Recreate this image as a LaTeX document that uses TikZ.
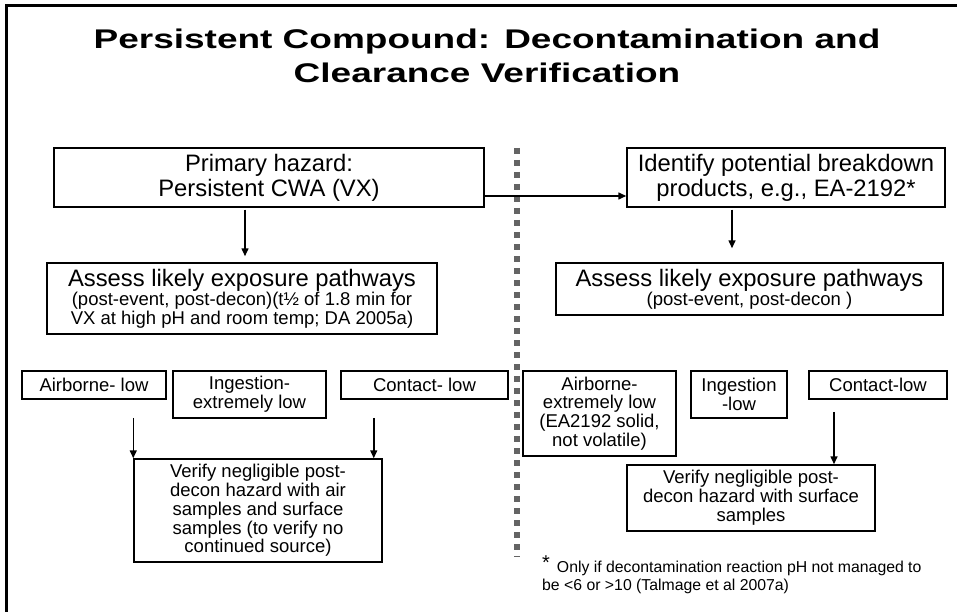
\documentclass[tikz,border=0pt]{standalone}
\usepackage{fontspec}
\setmainfont{Liberation Sans}
\newfontfamily\titlefont{Liberation Sans}[FakeStretch=1.37]
\usetikzlibrary{arrows.meta,calc}
\definecolor{sepgray}{RGB}{100,100,100}
\newcommand{\fsBig}{\fontsize{23.8}{25}\selectfont}
\newcommand{\fsMid}{\fontsize{18.5}{18.8}\selectfont}
\newcommand{\fsFoot}{\fontsize{15.8}{17.5}\selectfont}
\begin{document}
\begin{tikzpicture}[x=1pt,y=-1pt,
  box/.style={draw, line width=1.5pt, inner sep=0pt, align=center},
  arr/.style={line width=1.5pt, -{Triangle[length=8pt,width=7pt]}},
  sep/.style={sepgray, line width=6pt, dash pattern=on 6pt off 6pt},
  frame/.style={line width=3pt}
]
\useasboundingbox (0,0) rectangle (957,612);
\fill[white] (0,0) rectangle (957,612);

% frame
\coordinate (frTR) at (957,6);
\coordinate (frTL) at (6,6);
\coordinate (frBL) at (6,612);
\draw[frame] (frTR) -- (frTL) -- (frBL);

% title
\node[font=\titlefont\bfseries\fontsize{27}{34}\selectfont, align=center, inner sep=0pt] (title) at (487,56)
  {Persistent Compound:\hspace{14pt}Decontamination and\\Clearance Verification};

% separator
\coordinate (septop) at (517,148);
\coordinate (sepbot) at (517,557);
\draw[sep] (septop) -- (sepbot);

% left column
\node[box, font=\fsBig, minimum width=430pt, minimum height=59pt] (prim) at (269,177.5)
  {Primary hazard:\\Persistent CWA (VX)};
\node[box, font=\fsMid, minimum width=390pt, minimum height=71pt] (ass1) at (242,298.5)
  {{\fsBig Assess likely exposure pathways}\\(post-event, post-decon)(t½ of 1.8 min for\\VX at high pH and room temp; DA 2005a)};
\node[box, font=\fsMid, minimum width=144pt, minimum height=28pt] (air1) at (94,385) {Airborne- low};
\node[box, font=\fsMid, minimum width=153pt, minimum height=47pt] (ing1) at (249.5,394.5) {Ingestion-\\extremely low};
\node[box, font=\fsMid, minimum width=167pt, minimum height=28pt] (con1) at (424.5,385) {Contact- low};
\node[box, font=\fsMid, minimum width=248pt, minimum height=103pt] (ver1) at (258,510.5)
  {Verify negligible post-\\decon hazard with air\\samples and surface\\samples (to verify no\\continued source)};

% right column
\node[box, font=\fsBig, minimum width=318pt, minimum height=59pt] (ident) at (786,177.5)
  {Identify potential breakdown\\products, e.g., EA-2192*};
\node[box, font=\fsMid, minimum width=387pt, minimum height=52pt] (ass2) at (749.5,289)
  {{\fsBig Assess likely exposure pathways}\\(post-event, post-decon )};
\node[box, font=\fsMid, minimum width=153pt, minimum height=85pt] (air2) at (599.5,413.5)
  {Airborne-\\extremely low\\(EA2192 solid,\\not volatile)};
\node[box, font=\fsMid, minimum width=96pt, minimum height=47pt] (ing2) at (739,394.5) {Ingestion\\-low};
\node[box, font=\fsMid, minimum width=138pt, minimum height=28pt] (con2) at (878,385) {Contact-low};
\node[box, font=\fsMid, minimum width=248pt, minimum height=66pt] (ver2) at (751,498)
  {Verify negligible post-\\decon hazard with surface\\samples};

% footnote
\node[font=\fsFoot, align=left, anchor=north west, inner sep=0pt] (foot) at (542,556)
  {\raisebox{3pt}{\fontsize{20}{20}\selectfont *}\hspace{7pt}Only if decontamination reaction pH not managed to\\be <6 or >10 (Talmage et al 2007a)};

% connectors
\draw[arr] ($(prim.south)+(-24,2)$) -- ($(ass1.north -| prim.south)+(-24,-6)$);
\draw[arr] ($(prim.east)+(-1,18.5)$) -- ($(ident.west)+(0,18.5)$);
\draw[arr] ($(ident.south)+(-54,2)$) -- ($(ass2.north -| ident.south)+(-54,-14)$);
\draw[arr] ($(air1.south -| ver1.north west)+(0,18)$) -- (ver1.north west);
\draw[arr] ($(con1.south -| ver1.north east)+(-9,18)$) -- ($(ver1.north east)+(-9,0)$);
\draw[arr] ($(con2.south)+(-44,12)$) -- ($(ver2.north -| con2.south)+(-44,0)$);
\end{tikzpicture}
\end{document}
